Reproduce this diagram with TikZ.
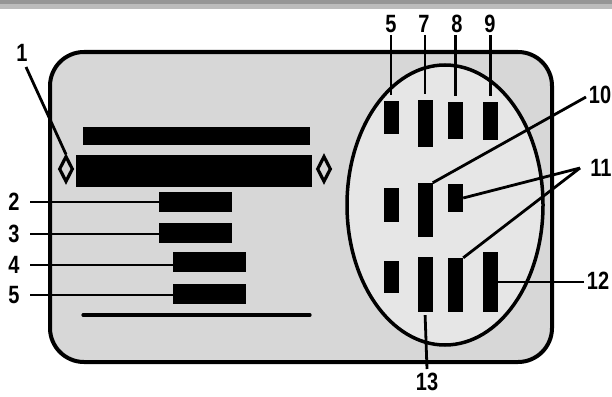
\documentclass[tikz,border=0pt]{standalone}
\usepackage{fontspec}
\setmainfont{Liberation Sans}[FakeStretch=0.8]
\usetikzlibrary{shapes.geometric}
\definecolor{banddark}{HTML}{959595}
\definecolor{bandlight}{HTML}{BBBBBB}
\definecolor{cardfill}{HTML}{D7D7D7}
\definecolor{ovalfill}{HTML}{E6E6E6}
\tikzset{
  pin/.style={fill=black, inner sep=0pt, minimum width=15pt},
  bar/.style={fill=black, inner sep=0pt},
  lab/.style={font=\fontsize{25}{25}\selectfont\bfseries, inner sep=2pt},
  leader/.style={line width=2.8pt},
  dia/.style={diamond, draw, line width=3.2pt, inner sep=0pt, minimum width=14pt, minimum height=26pt},
}
\begin{document}
\begin{tikzpicture}[x=1pt,y=-1pt]
\useasboundingbox (0,0) rectangle (612,396);
\fill[white] (0,0) rectangle (612,396);
\fill[banddark] (0,0) rectangle (612,4);
\fill[bandlight] (0,4) rectangle (612,8.7);
% card
\node[draw, line width=4pt, fill=cardfill, rounded corners=34pt, minimum width=502pt, minimum height=310pt] (card) at (301,207) {};
% oval
\node[ellipse, draw, line width=3.5pt, fill=ovalfill, minimum width=196pt, minimum height=280pt] (oval) at (445,205) {};
% left bars
\node[bar, minimum width=227pt, minimum height=18pt] (topbar) at (196.5,136) {};
\node[bar, minimum width=236pt, minimum height=32pt] (bigbar) at (194,171) {};
\node[bar, minimum width=73pt, minimum height=20pt] (b2) at (195.5,202) {};
\node[bar, minimum width=73pt, minimum height=20pt] (b3) at (195.5,233) {};
\node[bar, minimum width=73pt, minimum height=20pt] (b4) at (209.5,262) {};
\node[bar, minimum width=73pt, minimum height=20pt] (b5) at (209.5,294) {};
\coordinate (bl1) at (83,315);
\coordinate (bl2) at (310,315);
\draw[line width=3.2pt, line cap=round] (bl1) -- (bl2);
% diamonds
\node[dia] (dl) at (66,169) {};
\node[dia] (dr) at (324,169) {};
% pins
\node[pin, minimum height=33pt] (p5) at (391,117.5) {};
\node[pin, minimum height=47pt] (p7) at (425,123.5) {};
\node[pin, minimum height=37pt] (p8) at (455.5,120.5) {};
\node[pin, minimum height=38pt] (p9) at (490.5,121) {};
\node[pin, minimum height=34pt] (m1) at (391,205) {};
\node[pin, minimum height=54pt] (m2) at (425,210) {};
\node[pin, minimum height=28pt] (m3) at (455.5,198) {};
\node[pin, minimum height=32pt] (q1) at (391,277) {};
\node[pin, minimum height=55pt] (q2) at (425,284.5) {};
\node[pin, minimum height=54pt] (q3) at (455.5,285) {};
\node[pin, minimum height=60pt] (q4) at (490.5,282) {};
% labels
\node[lab] (L1) at (22,53) {1};
\node[lab] (L2) at (14,202) {2};
\node[lab] (L3) at (14,234) {3};
\node[lab] (L4) at (14,265) {4};
\node[lab] (L5) at (14,295) {5};
\node[lab] (T5) at (391,24) {5};
\node[lab] (T7) at (424,24) {7};
\node[lab] (T8) at (457,24) {8};
\node[lab] (T9) at (490,24) {9};
\node[lab] (L10) at (600,95) {10};
\node[lab] (L11) at (601,168) {11};
\node[lab] (L12) at (598,281) {12};
\node[lab] (L13) at (427,382) {13};
% leaders
\coordinate (c1) at (26,67);
\draw[leader] (c1) -- (dl.north);
\coordinate (c2) at (30,202);
\coordinate (c3) at (30,234);
\coordinate (c4) at (30,265);
\coordinate (c5) at (30,295);
\draw[leader] (c2) -- (b2.west |- c2);
\draw[leader] (c3) -- (b3.west |- c3);
\draw[leader] (c4) -- (b4.west |- c4);
\draw[leader] (c5) -- (b5.west |- c5);
\coordinate (t5) at (391,35);
\coordinate (t7) at (425,35);
\coordinate (t8) at (455.5,35);
\coordinate (t9) at (490.5,35);
\draw[leader, shorten >=6pt] (t5) -- (p5.north);
\draw[leader, shorten >=6pt] (t7) -- (p7.north);
\draw[leader, shorten >=6pt] (t8) -- (p8.north);
\draw[leader, shorten >=6pt] (t9) -- (p9.north);
\coordinate (c10) at (586,97);
\draw[leader] (c10) -- (m2.north east);
\coordinate (c11) at (580,168);
\draw[leader] (c11) -- (m3.east);
\draw[leader] (c11) -- (q3.north east);
\coordinate (c12) at (584,282);
\draw[leader] (c12) -- (q4.east |- c12);
\coordinate (c13) at (427,369);
\draw[leader, shorten >=3pt] (c13) -- (q2.south);
\end{tikzpicture}
\end{document}
